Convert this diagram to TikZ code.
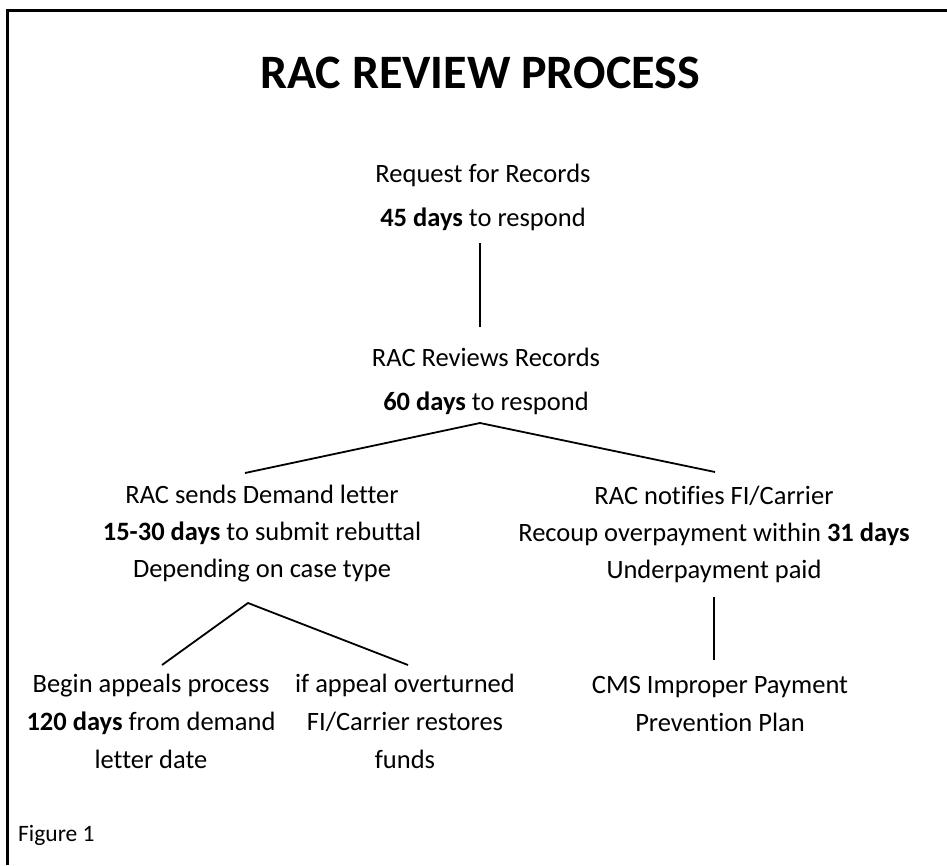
\documentclass[tikz,border=0pt]{standalone}
\usepackage{fontspec}
\setmainfont{Carlito}[Ligatures=NoCommon]
\tikzset{
  txt/.style={align=center, inner sep=0pt, anchor=base, font=\fontsize{26.5}{38}\selectfont},
  wide/.style={font=\fontsize{26.5}{44}\selectfont},
  tight/.style={font=\fontsize{26.5}{37}\selectfont},
  link/.style={line width=1.8pt},
}

\begin{document}
\begin{tikzpicture}[x=1pt, y=-1pt]
\useasboundingbox (0,0) rectangle (947,865);
% frame, cut by the page edge
        \coordinate (FB) at (7.5,865);
        \coordinate (FC) at (7.5,10.5);
        \coordinate (FR) at (947,10.5);
\draw[line width=3pt] (FB)--(FC)--(FR);
% texts (placed at the baseline of their last line)
\node[txt, font=\fontsize{48}{58}\selectfont\bfseries] (ttl) at (480,88) {RAC REVIEW PROCESS};
\node[txt, wide] (req) at (483,226) {Request for Records\\\textbf{45 days} to respond};
\node[txt, wide] (rev) at (486,410) {RAC Reviews Records\\\textbf{60 days} to respond};
\node[txt, tight] (dem) at (262,577) {RAC sends Demand letter\\\textbf{15-30 days} to submit rebuttal\\Depending on case type};
\node[txt, tight] (ntf) at (714,578) {RAC notifies FI/Carrier\\Recoup overpayment within \textbf{31 days}\\Underpayment paid};
\node[txt] (apl) at (151,768) {Begin appeals process\\\textbf{120 days} from demand\\letter date};
\node[txt] (ovt) at (405,768) {if appeal overturned\\FI/Carrier restores\\funds};
\node[txt] (cms) at (720,731) {CMS Improper Payment\\Prevention Plan};
\node[txt, anchor=base west, font=\fontsize{23.5}{30}\selectfont] (fig) at (18,841) {Figure 1};
% connectors
        \coordinate (A1) at (480,243);
        \coordinate (A2) at (480,327);
        \coordinate (V1) at (480,423);
        \coordinate (V1L) at (245,473);
        \coordinate (V1R) at (715,472);
        \coordinate (V2) at (248,603);
        \coordinate (V2L) at (162,665);
        \coordinate (V2R) at (408,665);
        \coordinate (B1) at (714,597);
        \coordinate (B2) at (714,660);
\draw[link] (A1)--(A2);
\draw[link] (V1L)--(V1)--(V1R);
\draw[link] (V2L)--(V2)--(V2R);
\draw[link] (B1)--(B2);
\end{tikzpicture}
\end{document}
